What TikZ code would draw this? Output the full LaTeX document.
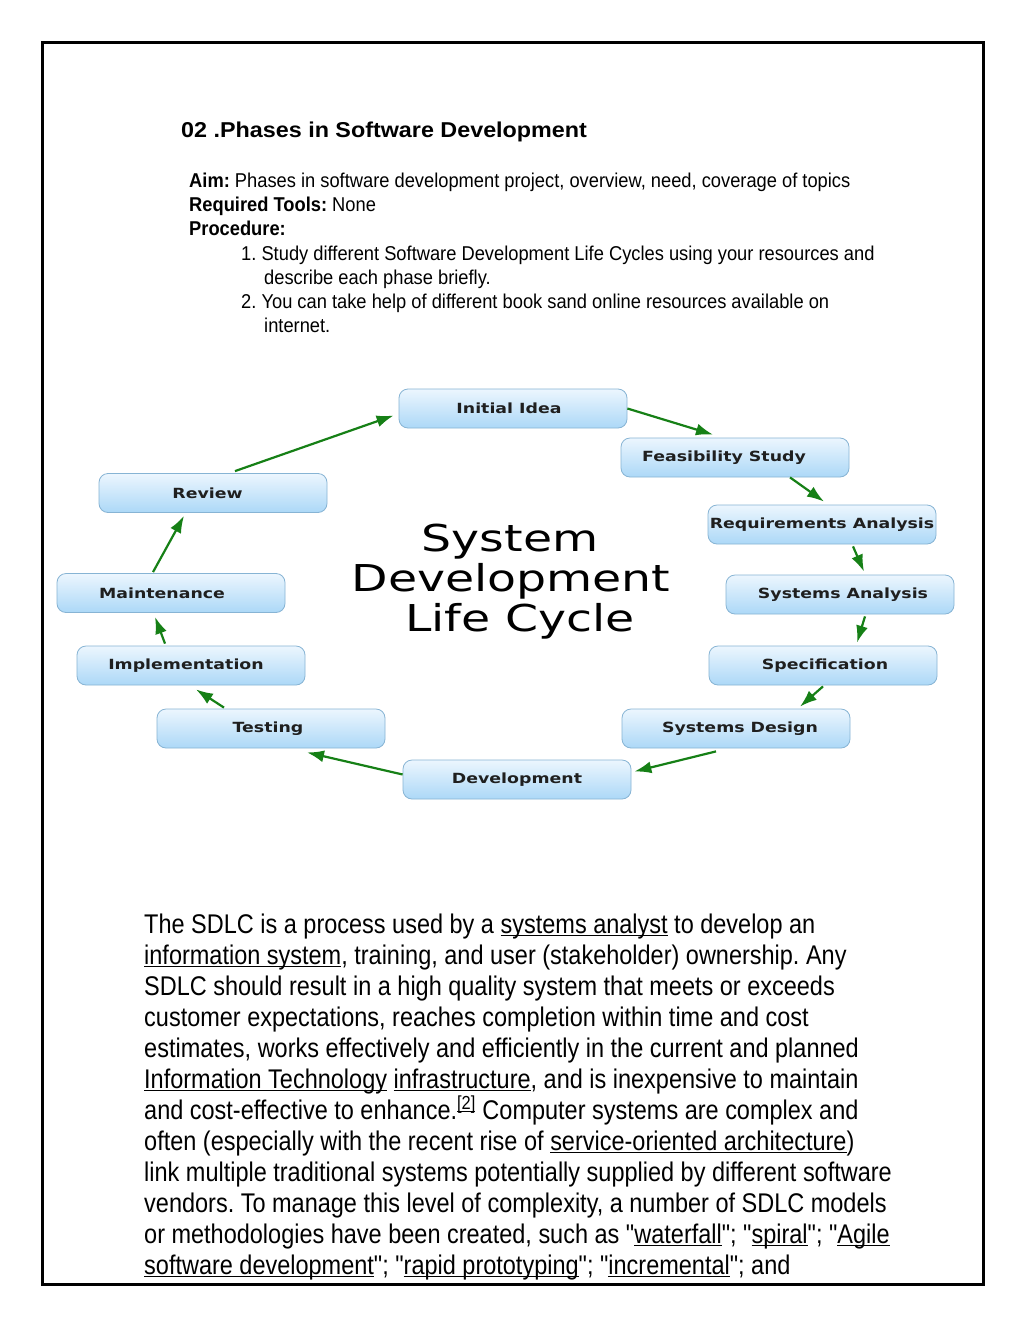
\documentclass[tikz,border=0pt]{standalone}
\usepackage{fontspec}
\usetikzlibrary{arrows.meta}
\newfontfamily\bodyfont{Liberation Sans}[FakeStretch=0.87]
\newfontfamily\headfont{Liberation Sans}[FakeStretch=0.915]
\newfontfamily\titlefont{Liberation Sans}[FakeStretch=1.085]
\newfontfamily\boxfont{DejaVu Sans}[FakeStretch=1.24]
\newfontfamily\cyclefont{DejaVu Sans}[FakeStretch=1.28]
\newcommand{\undl}[1]{\setbox0\hbox{#1}\rlap{\rule[-0.12em]{\wd0}{0.055em}}\box0\relax}
\newcommand{\tsh}[1]{\hspace*{#1}}
\definecolor{boxline}{RGB}{135,180,212}
\definecolor{boxtop}{RGB}{236,246,254}
\definecolor{boxbot}{RGB}{172,216,247}
\definecolor{flowgreen}{RGB}{22,128,22}
\tikzset{
  phase/.style={draw=boxline, line width=0.8pt, rounded corners=9pt,
    top color=boxtop, bottom color=boxbot, minimum width=228pt, minimum height=39pt,
    inner sep=0pt, font=\boxfont\bfseries\fontsize{14}{16}\selectfont, text=black!88},
  flow/.style={draw=flowgreen, line width=2.2pt, -{Latex[length=17pt,width=12pt]}},
  bodyline/.style={anchor=base west, inner sep=0pt, font=\bodyfont\fontsize{27}{31}\selectfont},
  headline/.style={anchor=base west, inner sep=0pt, font=\headfont\fontsize{20}{24}\selectfont},
  bigtitle/.style={anchor=base, inner sep=0pt, font=\cyclefont\fontsize{37}{40}\selectfont}
}
\begin{document}
\frenchspacing
\begin{tikzpicture}[x=1pt,y=-1pt]
\useasboundingbox (0,0) rectangle (1024,1325);
\fill[white] (0,0) rectangle (1024,1325);
\draw[line width=3pt] (42,42) rectangle (983,1284);

% header
\node[anchor=base west, inner sep=0pt, font=\titlefont\bfseries\fontsize{21.5}{26}\selectfont] (h0) at (181,137) {02 .Phases in Software Development};
\node[headline] (h1) at (189,187) {\textbf{Aim:} Phases in software development project, overview, need, coverage of topics};
\node[headline] (h2) at (189,211) {\textbf{Required Tools:} None};
\node[headline] (h3) at (189,235) {\textbf{Procedure:}};
\node[headline] (h4) at (241,260) {1. Study different Software Development Life Cycles using your resources and};
\node[headline] (h5) at (264,284) {describe each phase briefly.};
\node[headline] (h6) at (241,308) {2. You can take help of different book sand online resources available on};
\node[headline] (h7) at (264,332) {internet.};

% phases
\node[phase] (init) at (513,408.5) {\tsh{-8pt}Initial Idea};
\node[phase] (feas) at (735,457.5) {\tsh{-22pt}Feasibility Study};
\node[phase] (req) at (822,524.5) {Requirements Analysis};
\node[phase] (sysan) at (840,594.5) {\tsh{6pt}Systems Analysis};
\node[phase] (spec) at (823,665.5) {\tsh{4pt}Specification};
\node[phase] (sysdes) at (736,728.5) {\tsh{8pt}Systems Design};
\node[phase] (dev) at (517,779.5) {Development};
\node[phase] (test) at (271,728.5) {\tsh{-6pt}Testing};
\node[phase] (impl) at (191,665.5) {\tsh{-10pt}Implementation};
\node[phase] (maint) at (171,593) {\tsh{-18pt}Maintenance};
\node[phase] (rev) at (213,493) {\tsh{-11pt}Review};

% title
\node[bigtitle] (t1) at (510,551) {System};
\node[bigtitle] (t2) at (511,591) {Development};
\node[bigtitle] (t3) at (520,631) {Life Cycle};

% flows
\draw[flow] (init.east) -- ([xshift=-22pt,yshift=3pt]feas.north);
\draw[flow] ([xshift=55pt]feas.south) -- ([xshift=2pt,yshift=3pt]req.north);
\draw[flow] ([xshift=31pt,yshift=-2pt]req.south) -- ([xshift=24pt,yshift=3pt]sysan.north);
\draw[flow] ([xshift=25pt,yshift=-2pt]sysan.south) -- ([xshift=34pt,yshift=3pt]spec.north);
\draw[flow] ([yshift=-1pt]spec.south) -- ([xshift=64pt,yshift=2pt]sysdes.north);
\draw[flow] ([xshift=-20pt,yshift=-3pt]sysdes.south) -- ([xshift=3pt,yshift=8pt]dev.east);
\draw[flow] ([yshift=5pt]dev.west) -- ([xshift=36pt,yshift=-4pt]test.south);
\draw[flow] ([xshift=-47pt,yshift=1pt]test.north) -- ([xshift=5pt,yshift=-4pt]impl.south);
\draw[flow] ([xshift=-26pt,yshift=2pt]impl.north) -- ([xshift=-16pt,yshift=-4pt]maint.south);
\draw[flow] ([xshift=-18pt,yshift=1pt]maint.north) -- ([xshift=-29pt,yshift=-3pt]rev.south);
\draw[flow] ([xshift=22pt,yshift=2pt]rev.north) -- ([xshift=-5pt,yshift=-7pt]init.west);

% body
\node[bodyline] (b1) at (144,933) {The SDLC is a process used by a \undl{systems analyst} to develop an};
\node[bodyline] (b2) at (144,964) {\undl{information system}, training, and user (stakeholder) ownership. Any};
\node[bodyline] (b3) at (144,995) {SDLC should result in a high quality system that meets or exceeds};
\node[bodyline] (b4) at (144,1026) {customer expectations, reaches completion within time and cost};
\node[bodyline] (b5) at (144,1057) {estimates, works effectively and efficiently in the current and planned};
\node[bodyline] (b6) at (144,1088) {\undl{Information Technology} \undl{infrastructure}, and is inexpensive to maintain};
\node[bodyline] (b7) at (144,1119) {and cost-effective to enhance.\textsuperscript{\undl{[2]}} Computer systems are complex and};
\node[bodyline] (b8) at (144,1150) {often (especially with the recent rise of \undl{service-oriented architecture})};
\node[bodyline] (b9) at (144,1181) {link multiple traditional systems potentially supplied by different software};
\node[bodyline] (b10) at (144,1212) {vendors. To manage this level of complexity, a number of SDLC models};
\node[bodyline] (b11) at (144,1243) {or methodologies have been created, such as "\undl{waterfall}"; "\undl{spiral}"; "\undl{Agile}};
\node[bodyline] (b12) at (144,1274) {\undl{software development}"; "\undl{rapid prototyping}"; "\undl{incremental}"; and};
\end{tikzpicture}
\end{document}
